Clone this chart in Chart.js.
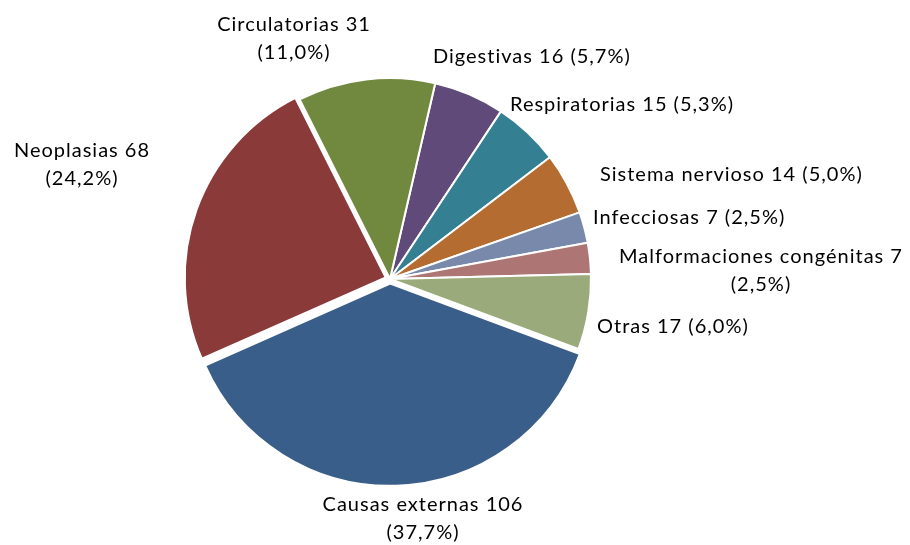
<!DOCTYPE html>
<html>
<head>
<meta charset="utf-8">
<script src="https://cdn.jsdelivr.net/npm/chart.js@4"></script>
<style>
  html, body { margin: 0; padding: 0; background: #fff; }
  #wrap { width: 910px; height: 545px; }
</style>
</head>
<body>
<div id="wrap"><canvas id="chartCausas" width="910" height="545"></canvas></div>
<script>
const categorias = ['Digestivas', 'Respiratorias', 'Sistema nervioso', 'Infecciosas',
  'Malformaciones congénitas', 'Otras', 'Causas externas', 'Neoplasias', 'Circulatorias'];
const defunciones = [16, 15, 14, 7, 7, 17, 106, 68, 31];
const colores = ['#5F4A7A', '#347F92', '#B46C31', '#7889AB', '#AE7575', '#9AAA7A',
  '#3A5E8A', '#8B3A3A', '#71893F'];
// chart.js moves an arc by offset/4 px
const separado = [0, 0, 0, 0, 0, 0, 18, 18, 0];

// where each label sits: x, y of first line, alignment, split in two lines
const labelLayout = [
  { x: 433, y: 57, align: 'left', wrap: false },
  { x: 510, y: 105, align: 'left', wrap: false },
  { x: 600, y: 175, align: 'left', wrap: false },
  { x: 593, y: 218, align: 'left', wrap: false },
  { x: 761, y: 257, align: 'center', wrap: true },
  { x: 597, y: 327, align: 'left', wrap: false },
  { x: 423, y: 505, align: 'center', wrap: true },
  { x: 82, y: 151, align: 'center', wrap: true },
  { x: 294, y: 25, align: 'center', wrap: true }
];

const total = defunciones.reduce((a, b) => a + b, 0);

const pieLabels = {
  id: 'pieLabels',
  afterDraw(chart) {
    const ctx = chart.ctx;
    const meta = chart.getDatasetMeta(0);
    ctx.save();
    ctx.font = '20px Lato';
    ctx.letterSpacing = '1px';
    ctx.fillStyle = '#000';
    ctx.textBaseline = 'middle';
    meta.data.forEach((arc, i) => {
      const v = defunciones[i];
      const pct = (v / total * 100).toFixed(1).replace('.', ',');
      const lay = labelLayout[i];
      const first = categorias[i] + ' ' + v;
      const second = '(' + pct + '%)';
      ctx.textAlign = lay.align;
      if (lay.wrap) {
        ctx.fillText(first, lay.x, lay.y);
        ctx.fillText(second, lay.x, lay.y + 28);
      } else {
        ctx.fillText(first + ' ' + second, lay.x, lay.y);
      }
    });
    ctx.restore();
  }
};

new Chart(document.getElementById('chartCausas'), {
  type: 'pie',
  data: {
    labels: categorias,
    datasets: [{
      data: defunciones,
      backgroundColor: colores,
      borderColor: '#fff',
      borderWidth: 2,
      offset: separado
    }]
  },
  options: {
    responsive: false,
    animation: false,
    rotation: 13,
    radius: 201,
    layout: { padding: { left: 0, right: 130, top: 13, bottom: 0 } },
    plugins: {
      legend: { display: false },
      tooltip: { enabled: false }
    }
  },
  plugins: [pieLabels]
});
</script>
</body>
</html>
